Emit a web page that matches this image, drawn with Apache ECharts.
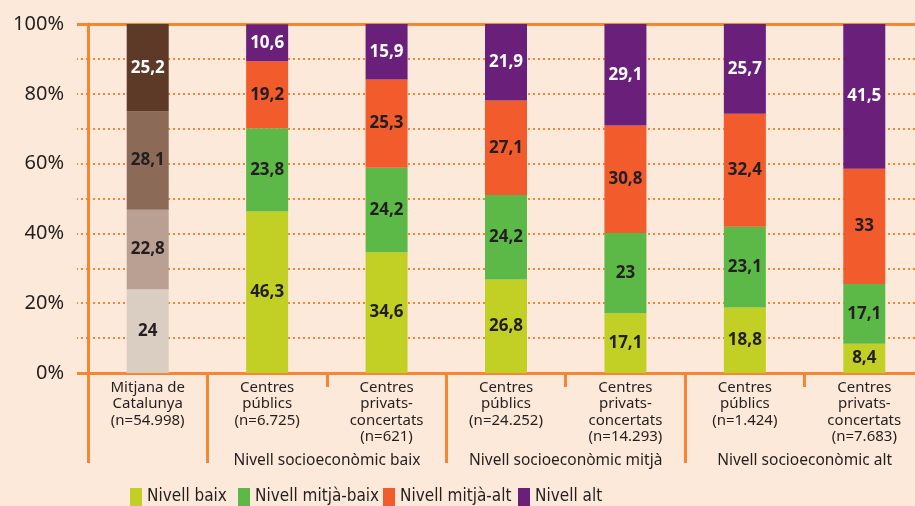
<!DOCTYPE html>
<html>
<head>
<meta charset="utf-8">
<script src="https://cdn.jsdelivr.net/npm/echarts@6/dist/echarts.min.js"></script>
<style>
  html, body { margin: 0; padding: 0; background: #fde9d9; }
  #chart { width: 915px; height: 506px; }
</style>
</head>
<body>
<div id="chart"></div>
<script>
  // categories (x axis) and the group labels under pairs of columns
  const categories = [
    'Mitjana de\nCatalunya\n(n=54.998)',
    'Centres\npúblics\n(n=6.725)',
    'Centres\nprivats-\nconcertats\n(n=621)',
    'Centres\npúblics\n(n=24.252)',
    'Centres\nprivats-\nconcertats\n(n=14.293)',
    'Centres\npúblics\n(n=1.424)',
    'Centres\nprivats-\nconcertats\n(n=7.683)'
  ]
  const groupLabels = ['', '', 'Nivell socioeconòmic baix', '', 'Nivell socioeconòmic mitjà', '', 'Nivell socioeconòmic alt', '']

  const seriesNames = ['Nivell baix', 'Nivell mitjà-baix', 'Nivell mitjà-alt', 'Nivell alt']
  const nivellBaix = [24, 46.3, 34.6, 26.8, 17.1, 18.8, 8.4]
  const nivellMitjaBaix = [22.8, 23.8, 24.2, 24.2, 23, 23.1, 17.1]
  const nivellMitjaAlt = [28.1, 19.2, 25.3, 27.1, 30.8, 32.4, 33]
  const nivellAlt = [25.2, 10.6, 15.9, 21.9, 29.1, 25.7, 41.5]

  const yTickLabels = [0, 20, 40, 60, 80, 100]

  const seriesColors = ['#c2d025', '#5cb947', '#f25b2c', '#6a1f7b']
  const mitjanaColors = ['#dacdc2', '#baa092', '#8b6a58', '#5d3a28']
  const labelColors = ['#231f20', '#231f20', '#231f20', '#ffffff']
  const legendLeft = [130, 238, 383, 518]
  const orange = '#f58634'
  const textColor = '#231f20'

  const values = [nivellBaix, nivellMitjaBaix, nivellMitjaAlt, nivellAlt]

  const chart = echarts.init(document.getElementById('chart'))

  chart.setOption({
    backgroundColor: '#fde9d9',
    animation: false,
    textStyle: { fontFamily: 'Noto Sans' },
    grid: { left: 88, top: 24, bottom: 133, width: 836, containLabel: false, outerBoundsMode: 'none' },
    // one legend per item, so each sits where it does in the original
    legend: seriesNames.map(function (name, s) {
      return {
        data: [name],
        left: legendLeft[s],
        top: 488,
        padding: 0,
        itemWidth: 12,
        itemHeight: 18,
        icon: 'rect',
        textStyle: { fontFamily: 'DejaVu Sans Condensed', fontSize: 17, color: textColor }
      }
    }),
    xAxis: [
      {
        type: 'category',
        data: categories,
        position: 'bottom',
        axisLine: { show: true, lineStyle: { color: orange, width: 3 } },
        axisTick: {
          show: true,
          length: 90,
          interval: function (i) { return i === 0 || i === 1 || i === 3 || i === 5 },
          lineStyle: { color: orange, width: 3 }
        },
        axisLabel: {
          interval: 0,
          margin: 6,
          fontSize: 15,
          lineHeight: 16.5,
          color: textColor,
          verticalAlign: 'top'
        }
      },
      {
        type: 'category',
        data: categories,
        position: 'bottom',
        axisLine: { show: false },
        axisTick: {
          show: true,
          length: 14,
          interval: function (i) { return i === 2 || i === 4 || i === 6 },
          lineStyle: { color: orange, width: 3 }
        },
        axisLabel: { show: false }
      },
      {
        type: 'category',
        data: groupLabels,
        position: 'bottom',
        boundaryGap: false,
        axisLine: { show: false },
        axisTick: { show: false },
        axisLabel: { interval: 0, margin: 80, fontSize: 15.5, color: textColor, verticalAlign: 'top' }
      },
      {
        type: 'category',
        data: categories,
        position: 'top',
        axisLine: { show: true, lineStyle: { color: orange, width: 3 } },
        axisTick: { show: false },
        axisLabel: { show: false }
      }
    ],
    yAxis: [
      {
        type: 'value',
        min: 0,
        max: 100,
        interval: 10,
        axisLine: { show: true, lineStyle: { color: orange, width: 3 } },
        axisTick: { show: true, length: 11, lineStyle: { color: orange, width: 2, type: [2, 3] } },
        axisLabel: {
          margin: 24,
          fontSize: 20,
          color: textColor,
          formatter: function (v) { return yTickLabels.indexOf(v) >= 0 ? v + '%' : '' }
        },
        splitLine: { show: true, lineStyle: { color: orange, width: 2, type: [2, 3] } }
      },
      {
        type: 'value',
        min: 0,
        max: 100,
        interval: 100,
        position: 'left',
        z: 5,
        axisLine: { show: false },
        axisTick: { show: true, length: 11, lineStyle: { color: orange, width: 3 } },
        axisLabel: { show: false },
        splitLine: { show: false }
      }
    ],
    series: seriesNames.map(function (name, s) {
      return {
        name: name,
        type: 'bar',
        stack: 'total',
        barWidth: 42,
        xAxisIndex: 0,
        yAxisIndex: 0,
        itemStyle: { color: seriesColors[s] },
        label: {
          show: true,
          position: 'inside',
          fontSize: 17,
          fontWeight: 'bold',
          color: labelColors[s],
          formatter: function (p) { return String(p.value).replace('.', ',') }
        },
        data: values[s].map(function (v, i) {
          if (i === 0) {
            return { value: v, itemStyle: { color: mitjanaColors[s] } }
          }
          return v
        })
      }
    })
  })
</script>
</body>
</html>
